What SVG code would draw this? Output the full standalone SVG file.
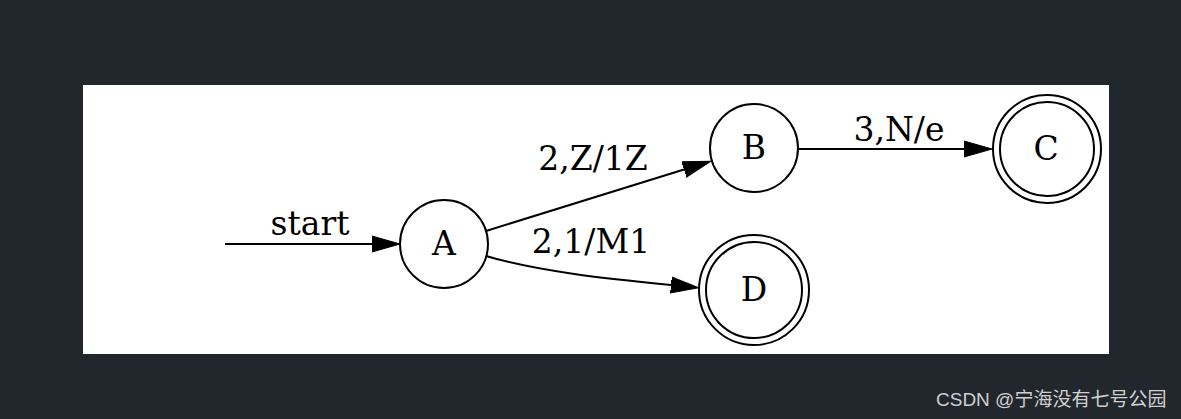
<svg xmlns="http://www.w3.org/2000/svg" width="1181" height="419" viewBox="0 0 1181 419">
<style>
  .n { fill: none; stroke: #000; stroke-width: 2; }
  .e { fill: none; stroke: #000; stroke-width: 2; }
  .t { font-family: "DejaVu Serif", "Liberation Serif", serif; font-size: 33px; fill: #000; text-anchor: middle; }
  .wm { font-family: "Liberation Sans", "Noto Sans CJK SC", sans-serif; font-size: 19px; fill: #cfcfcf; }
</style>
<defs>
  <marker id="arr" viewBox="0 0 28 18" refX="0" refY="9" markerWidth="28" markerHeight="18" markerUnits="userSpaceOnUse" orient="auto">
    <path d="M0,1 L28,9 L0,17 z" fill="#000" stroke="#000" stroke-width="1"/>
  </marker>
</defs>
<rect x="0" y="0" width="1181" height="419" fill="#22272e"/>
<rect x="83" y="85" width="1026" height="269" fill="#ffffff"/>

<g id="connectors">
  <g id="e-start">
    <line class="e" x1="225" y1="244" x2="372" y2="244" marker-end="url(#arr)"/>
    <text class="t" x="310" y="235">start</text>
  </g>
  <g id="e-AB">
    <line class="e" x1="486" y1="231" x2="684" y2="169.5" marker-end="url(#arr)"/>
    <text class="t" x="593" y="170">2,Z/1Z</text>
  </g>
  <g id="e-BC">
    <line class="e" x1="798" y1="149" x2="964" y2="149" marker-end="url(#arr)"/>
    <text class="t" x="899" y="141">3,N/e</text>
  </g>
  <g id="e-AD">
    <path class="e" d="M486,256 C540,272 610,279 671,285" marker-end="url(#arr)"/>
    <text class="t" x="591" y="253">2,1/M1</text>
  </g>
</g>

<g id="A">
  <circle class="n" cx="444" cy="244" r="44"/>
  <text class="t" x="444" y="255">A</text>
</g>
<g id="B">
  <circle class="n" cx="754" cy="148" r="44"/>
  <text class="t" x="754" y="159">B</text>
</g>
<g id="C">
  <circle class="n" cx="1047" cy="149" r="54"/>
  <circle class="n" cx="1047" cy="149" r="47"/>
  <text class="t" x="1046" y="160">C</text>
</g>
<g id="D">
  <circle class="n" cx="754" cy="290" r="55"/>
  <circle class="n" cx="754" cy="290" r="48"/>
  <text class="t" x="754" y="301">D</text>
</g>

<text class="wm" x="936" y="406">CSDN @宁海没有七号公园</text>
</svg>
